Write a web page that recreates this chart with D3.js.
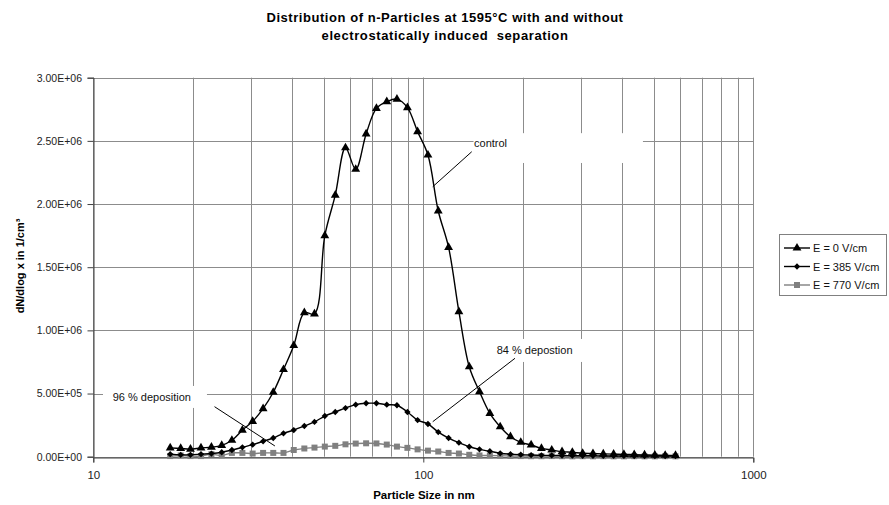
<!DOCTYPE html>
<html>
<head>
<meta charset="utf-8">
<script src="https://cdn.jsdelivr.net/npm/d3@7"></script>
<style>
  body { margin: 0; background: #fff; }
  text { font-family: Arial, 'Liberation Sans', sans-serif; }
</style>
</head>
<body>
<div id="chart"></div>
<script>
const WIDTH  = 889;
const HEIGHT = 505;
const PLOT = {
  left:   93.3,
  right:  753.3,
  top:    77.7,
  bottom: 456.7
};

const COLORS = {
  grid:  '#8c8c8c',
  axis:  '#404040',
  black: '#000',
  gray:  '#808080'
};

// Particle size channels (nm), 32 per decade
const sizes = [
  17.1, 18.4, 19.7, 21.2, 22.8, 24.5, 26.3, 28.3, 30.4, 32.7,
  35.1, 37.7, 40.5, 43.6, 46.8, 50.3, 54.1, 58.1, 62.4, 67.1,
  72.1, 77.5, 83.2, 89.5, 96.1, 103.3, 111.0, 119.3, 128.2, 137.8,
  148.0, 159.1, 171.0, 183.7, 197.4, 212.2, 228.0, 245.0, 263.3, 282.9,
  304.0, 326.7, 351.1, 377.3, 405.4, 435.7, 468.2, 503.1, 540.7, 581.0
];

const e0 = [
  7.0e4, 6.5e4, 6.0e4, 7.0e4, 7.5e4, 9.0e4, 1.3e5, 2.1e5, 2.8e5, 3.8e5,
  5.1e5, 6.9e5, 8.8e5, 1.14e6, 1.13e6, 1.75e6, 2.07e6, 2.445e6, 2.275e6, 2.555e6,
  2.757e6, 2.81e6, 2.83e6, 2.763e6, 2.573e6, 2.388e6, 1.945e6, 1.657e6, 1.148e6, 7.12e5,
  5.15e5, 3.43e5, 2.37e5, 1.58e5, 1.14e5, 9.3e4, 6.6e4, 5.3e4, 4.0e4, 3.5e4,
  2.7e4, 2.5e4, 2.2e4, 2.0e4, 1.8e4, 1.6e4, 1.4e4, 1.2e4, 1.1e4, 1.0e4
];

const e385 = [
  2.0e4, 1.5e4, 1.5e4, 2.0e4, 2.5e4, 3.5e4, 5.3e4, 7.4e4, 9.5e4, 1.22e5,
  1.48e5, 1.85e5, 2.11e5, 2.43e5, 2.75e5, 3.22e5, 3.54e5, 3.85e5, 4.12e5, 4.23e5,
  4.23e5, 4.12e5, 4.07e5, 3.54e5, 2.90e5, 2.59e5, 1.95e5, 1.48e5, 1.11e5, 7.9e4,
  5.8e4, 4.3e4, 2.7e4, 2.0e4, 1.6e4, 1.3e4, 1.1e4, 1.0e4, 9.0e3, 8.0e3,
  7.0e3, 7.0e3, 6.0e3, 6.0e3, 6.0e3, 5.0e3, 5.0e3, 5.0e3, 5.0e3, 5.0e3
];

const e770 = [
  5.0e3, 1.0e4, 5.0e3, 5.0e3, 2.0e4, 1.0e4, 3.0e4, 3.0e4, 2.5e4, 3.0e4,
  3.0e4, 3.0e4, 5.3e4, 6.5e4, 7.2e4, 8.0e4, 8.6e4, 9.8e4, 1.04e5, 1.06e5,
  1.05e5, 9.6e4, 8.0e4, 7.0e4, 5.8e4, 4.8e4, 4.1e4, 3.0e4, 2.5e4, 1.5e4,
  1.0e4, 1.0e4, 8.0e3, 6.0e3, 5.0e3, 4.0e3, 4.0e3, 5.0e3, 4.0e3, 3.0e3,
  4.0e3, 3.0e3, 4.0e3, 3.0e3, 3.0e3, 4.0e3, 3.0e3, 3.0e3, 4.0e3, 3.0e3
];

const yTicks = [0, 5e5, 1e6, 1.5e6, 2e6, 2.5e6, 3e6];
const xMajor = [10, 100, 1000];
const yTickLabels = ['0.00E+00', '5.00E+05', '1.00E+06', '1.50E+06', '2.00E+06', '2.50E+06', '3.00E+06'];

const series = [
  { name: 'E = 0 V/cm',   values: e0,   color: COLORS.black, symbol: 'triangle' },
  { name: 'E = 385 V/cm', values: e385, color: COLORS.black, symbol: 'diamond' },
  { name: 'E = 770 V/cm', values: e770, color: COLORS.gray,  symbol: 'square' }
];

// Text boxes: label position, white box and leader line, in data units
const notes = [
  { text: 'control',         at: [142.5, 2.452e6], box: [[142, 2.561e6], [463, 2.325e6]], line: [[140.2, 2.414e6], [106.8, 2.137e6]] },
  { text: '84 % depostion',  at: [166.9, 8.13e5],  box: [[163, 9.32e5], [394, 7.5e5]],    line: [[189.6, 7.79e5], [106.8, 2.77e5]] },
  { text: '96 % deposition', at: [11.45, 4.41e5],  box: [[10.7, 5.6e5], [22.1, 3.86e5]],  line: [[23.3, 3.96e5], [35.5, 8.5e4]] }
];



var x = d3.scaleLog()
  .domain([10, 1000])
  .range([PLOT.left, PLOT.right]);
var y = d3.scaleLinear()
  .domain([0, 3e6])
  .range([PLOT.bottom, PLOT.top]);

function marker(sel, type) {
  if (type === 'triangle') {
    sel.attr('d', d3.symbol(d3.symbolTriangle, 34)());
  } else if (type === 'diamond') {
    sel.attr('d', d3.symbol(d3.symbolSquare, 20)());
  } else {
    sel.attr('d', d3.symbol(d3.symbolSquare, 36)());
  }
  return sel;
}

var svg = d3.select('#chart').append('svg')
  .attr('width', WIDTH)
  .attr('height', HEIGHT)
  .style('background-color', '#fff');

// Title
svg.append('text')
  .attr('x', 445)
  .attr('y', 22)
  .attr('text-anchor', 'middle')
  .attr('font-size', 13)
  .attr('font-weight', 'bold')
  .attr('letter-spacing', 0.55)
  .text('Distribution of n-Particles at 1595°C with and without');
svg.append('text')
  .attr('x', 445)
  .attr('y', 40)
  .attr('text-anchor', 'middle')
  .attr('font-size', 13)
  .attr('font-weight', 'bold')
  .attr('letter-spacing', 0.6)
  .style('white-space', 'pre')
  .text('electrostatically induced  separation');

// Grid
var grid = svg.append('g');
var xGrid = [];
for (let d = 1; d <= 2; d++) {
  for (let m = 1; m <= 10; m++) {
    xGrid.push(m * Math.pow(10, d));
  }
}
grid.selectAll('.vgrid')
    .data(xGrid)
  .enter().append('line')
    .attr('class', 'vgrid')
    .attr('x1', d => Math.round(x(d)) + 0.5)
    .attr('x2', d => Math.round(x(d)) + 0.5)
    .attr('y1', PLOT.top)
    .attr('y2', PLOT.bottom)
    .style('stroke', COLORS.grid)
    .style('stroke-width', 1);
grid.selectAll('.hgrid')
    .data(yTicks)
  .enter().append('line')
    .attr('class', 'hgrid')
    .attr('x1', PLOT.left)
    .attr('x2', PLOT.right)
    .attr('y1', d => Math.round(y(d)) + 0.5)
    .attr('y2', d => Math.round(y(d)) + 0.5)
    .style('stroke', COLORS.grid)
    .style('stroke-width', 1);

// White text boxes over the grid
svg.selectAll('.notebox')
    .data(notes)
  .enter().append('rect')
    .attr('class', 'notebox')
    .attr('x', d => x(d.box[0][0]))
    .attr('y', d => y(d.box[0][1]))
    .attr('width', d => x(d.box[1][0]) - x(d.box[0][0]))
    .attr('height', d => y(d.box[1][1]) - y(d.box[0][1]))
    .style('fill', '#fff');

// Axes
var yAxis = svg.append('g')
  .attr('transform', `translate(${Math.round(PLOT.left) + 0.5},0)`)
  .call(d3.axisLeft(y)
    .tickValues(yTicks)
    .tickSize(6)
    .tickFormat((d, i) => yTickLabels[i]));
var xAxis = svg.append('g')
  .attr('transform', `translate(0,${Math.round(PLOT.bottom) + 0.5})`)
  .call(d3.axisBottom(x)
    .tickValues(xMajor)
    .tickSize(5)
    .tickPadding(8)
    .tickFormat(d3.format('d')));
for (let a of [xAxis, yAxis]) {
  a.select('.domain').style('stroke', COLORS.axis);
  a.selectAll('.tick line').style('stroke', COLORS.axis);
  a.selectAll('.tick text')
    .attr('font-family', 'Arial, Liberation Sans, sans-serif')
    .style('fill', '#222');
}
xAxis.selectAll('.tick text').attr('font-size', 11.5);
yAxis.selectAll('.tick text')
  .attr('font-size', 10.5)
  .attr('x', -11.5);

svg.append('text')
  .attr('transform', 'translate(23.5,266) rotate(-90)')
  .attr('text-anchor', 'middle')
  .attr('font-size', 11)
  .attr('font-weight', 'bold')
  .text('dN/dlog x in 1/cm³');
svg.append('text')
  .attr('x', 424)
  .attr('y', 499)
  .attr('text-anchor', 'middle')
  .attr('font-size', 11.5)
  .attr('font-weight', 'bold')
  .text('Particle Size in nm');

// Annotation texts and leaders
svg.selectAll('.notetext')
    .data(notes)
  .enter().append('text')
    .attr('class', 'notetext')
    .attr('x', d => x(d.at[0]))
    .attr('y', d => y(d.at[1]))
    .attr('font-size', 11)
    .style('fill', '#111')
    .text(d => d.text);
svg.selectAll('.noteline')
    .data(notes)
  .enter().append('line')
    .attr('class', 'noteline')
    .attr('x1', d => x(d.line[0][0]))
    .attr('y1', d => y(d.line[0][1]))
    .attr('x2', d => x(d.line[1][0]))
    .attr('y2', d => y(d.line[1][1]))
    .style('stroke', '#000')
    .style('stroke-width', 1);

// Series
var line = d3.line()
  .x(d => x(d[0]))
  .y(d => y(d[1]))
  .curve(d3.curveCatmullRom.alpha(0.5));

var groups = svg.selectAll('.series')
    .data(series.slice().reverse())
  .enter().append('g')
    .attr('class', 'series');

groups.append('path')
  .attr('d', s => line(sizes.map((d, i) => [d, s.values[i]])))
  .style('fill', 'none')
  .style('stroke', s => s.color)
  .style('stroke-width', 1.4);

groups.each(function(s) {
  d3.select(this).selectAll('.pt')
      .data(sizes.map((d, i) => [d, s.values[i]]))
    .enter().append('path')
      .attr('class', 'pt')
      .call(marker, s.symbol)
      .attr('transform', d => `translate(${x(d[0])},${y(d[1])})` + (s.symbol === 'diamond' ? ' rotate(45)' : ''))
      .style('fill', s.color);
});

// Legend
var legend = svg.append('g');
legend.append('rect')
  .attr('x', 779.5)
  .attr('y', 234.5)
  .attr('width', 107)
  .attr('height', 61)
  .style('fill', '#fff')
  .style('stroke', COLORS.gray)
  .style('stroke-width', 1);

var items = legend.selectAll('.item')
    .data(series)
  .enter().append('g')
    .attr('class', 'item')
    .attr('transform', (d, i) => `translate(0,${248 + i * 18.5})`);
items.append('line')
  .attr('x1', 784)
  .attr('x2', 810)
  .style('stroke', d => d.color)
  .style('stroke-width', 1.4);
items.append('path')
  .each(function(d) { marker(d3.select(this), d.symbol); })
  .attr('transform', d => 'translate(797,0)' + (d.symbol === 'diamond' ? ' rotate(45)' : ''))
  .style('fill', d => d.color);
items.append('text')
  .attr('x', 813)
  .attr('y', 4)
  .attr('font-size', 11)
  .style('fill', '#111')
  .text(d => d.name);
</script>
</body>
</html>
